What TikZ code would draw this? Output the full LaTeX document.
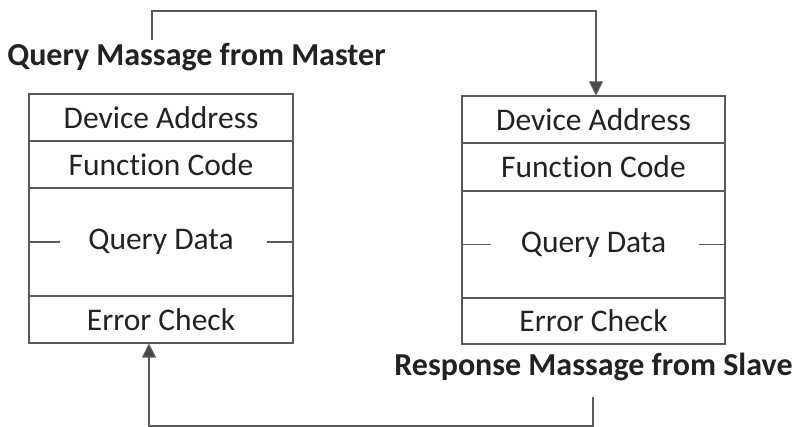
\documentclass[tikz,border=0pt]{standalone}
\usepackage{fontspec}
\setmainfont{Carlito}[Ligatures=NoCommon]
\usetikzlibrary{arrows.meta}
\definecolor{ink}{HTML}{222222}
\definecolor{rule}{HTML}{5A5A5A}
\begin{document}
\begin{tikzpicture}[x=1pt,y=-1pt,
  cell/.style={draw=rule,line width=1.1pt,rectangle,inner sep=0pt,
    minimum width=#1,text=ink,font=\fontsize{31.5}{33}\selectfont},
  title/.style={text=ink,font=\bfseries\fontsize{32}{34}\selectfont,inner sep=0pt},
  link/.style={draw=rule,line width=1.1pt},
  tip/.style={-{Triangle[width=14pt,length=14pt,fill=rule!80!black]}}]
\useasboundingbox (0,0) rectangle (795,427);
\fill[white] (0,0) rectangle (795,427);

% master frame (left)
\node[cell=264pt,minimum height=47pt] (lda) at (161,117.5) {Device Address};
\node[cell=264pt,minimum height=47pt] (lfc) at (161,164.5) {Function Code};
\node[cell=264pt,minimum height=108pt] (lqd) at (161,242) {Query Data};
\node[cell=264pt,minimum height=47pt] (lec) at (161,319.5) {Error Check};
\draw[link] (lqd.west) -- ++(32,0);
\draw[link] (lqd.east) -- ++(-27,0);

% slave frame (right)
\node[cell=263pt,minimum height=47pt] (rda) at (593.5,119.5) {Device Address};
\node[cell=263pt,minimum height=48pt] (rfc) at (593.5,167) {Function Code};
\node[cell=263pt,minimum height=107pt] (rqd) at (593.5,244.5) {Query Data};
\node[cell=263pt,minimum height=46pt] (rec) at (593.5,321) {Error Check};
\draw[link] (rqd.west) -- ++(30,0);
\draw[link] (rqd.east) -- ++(-27,0);

% captions
\node[title] (tq) at (196.5,57) {Query Massage from Master};
\node[title] (tr) at (593.5,367) {Response Massage from Slave};

% request path
\coordinate (s1) at (152,40);
\coordinate (top) at (400,11);
\draw[link,tip] (s1) |- (top) -| ([xshift=2.5pt]rda.north);

% response path
\coordinate (s2) at (593,397);
\coordinate (bot) at (400,426);
\draw[link,tip] (s2) |- (bot) -| ([xshift=-12pt]lec.south);
\end{tikzpicture}
\end{document}
